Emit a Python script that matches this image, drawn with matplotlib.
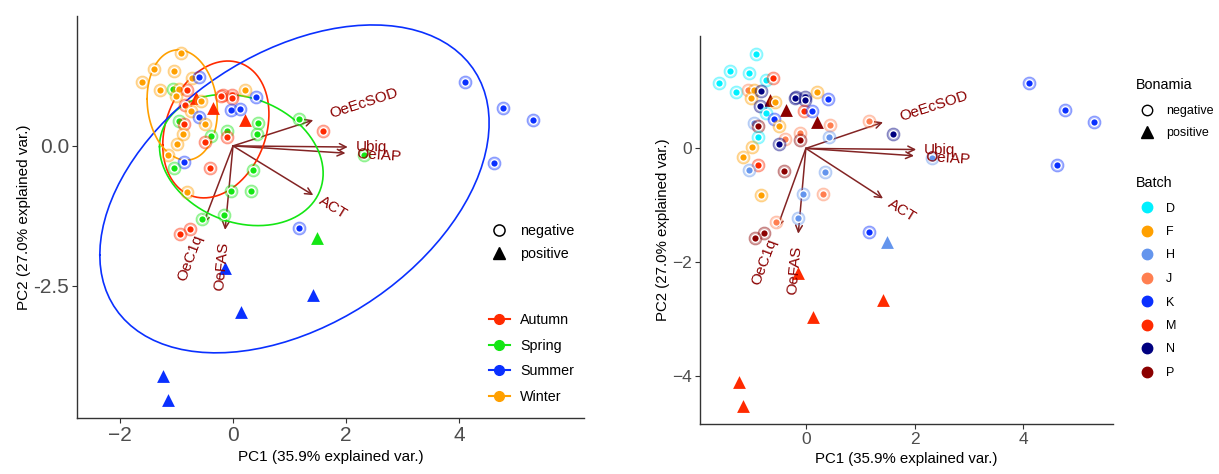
import numpy as np
import matplotlib
matplotlib.use("Agg")
import matplotlib.pyplot as plt
from matplotlib.lines import Line2D
from matplotlib.textpath import TextToPath
from matplotlib.font_manager import FontProperties
import matplotlib.transforms as mtransforms

plt.rcParams['font.family'] = ['Liberation Sans', 'DejaVu Sans']

# ---------------- data ----------------
pc1 = [-0.923, -1.391, -1.038, -1.603, -1.290, -0.730, -0.605, -1.064, -0.959, -1.002,
       -0.822, -0.656, -0.573, -0.845, -0.362, -0.735, -0.595, -0.956, -0.873, -0.494,
       -0.882, -0.390, -0.494, -0.983, -1.149, -0.873, -1.051, -0.399, -0.822, -0.178,
       -0.206, -0.013, -0.013, 0.204, 0.414, -0.040, 0.119, 0.211, 0.450, -0.101,
       -0.101, 0.428, 1.160, 1.601, 2.318, 0.358, -0.044, 0.322, -0.151, -0.555,
       -0.766, -0.941, 1.160, 1.489, -0.145, 1.424, 0.138, -1.235, -1.156, 4.100,
       4.774, 5.307, 4.615]
pc2 = [1.666, 1.369, 1.330, 1.143, 0.994, 1.210, 1.237, 1.021, 1.021, 0.883,
       1.001, 0.853, 0.807, 0.738, 0.676, 0.626, 0.517, 0.440, 0.387, 0.387,
       0.205, 0.172, 0.078, 0.028, -0.157, -0.290, -0.386, -0.391, -0.819, 0.909,
       0.883, 0.909, 0.847, 0.992, 0.877, 0.649, 0.662, 0.467, 0.410, 0.269,
       0.152, 0.205, 0.481, 0.260, -0.166, -0.423, -0.810, -0.810, -1.231, -1.302,
       -1.488, -1.582, -1.474, -1.652, -2.183, -2.661, -2.968, -4.111, -4.536, 1.143,
       0.683, 0.463, -0.297]
batch = ['D', 'D', 'D', 'D', 'D', 'D', 'M', 'J', 'F', 'F',
         'N', 'P', 'F', 'N', 'P', 'D', 'K', 'H', 'P', 'F',
         'D', 'J', 'N', 'F', 'F', 'M', 'H', 'P', 'F', 'N',
         'N', 'N', 'N', 'F', 'K', 'M', 'K', 'P', 'J', 'J',
         'P', 'H', 'J', 'N', 'H', 'H', 'H', 'J', 'H', 'J',
         'P', 'P', 'K', 'H', 'M', 'M', 'M', 'M', 'M', 'K',
         'K', 'K', 'K']
positive_idx = [11, 14, 37, 53, 54, 55, 56, 57, 58]

season_of_batch = {'D': 'Winter', 'F': 'Winter', 'H': 'Spring', 'J': 'Spring',
                   'K': 'Summer', 'M': 'Summer', 'N': 'Autumn', 'P': 'Autumn'}

var_names = ['OeEcSOD', 'Ubiq', 'OeIAP', 'ACT', 'OeC1q', 'OeFAS']
var_pc1 = [1.42, 2.03, 1.99, 1.42, -0.53, -0.14]
var_pc2 = [0.46, -0.02, -0.13, -0.88, -1.40, -1.50]

seasons = ['Autumn', 'Spring', 'Summer', 'Winter']
season_colors = ['#FF2A00', '#14E614', '#0A30FF', '#FFA000']
batches = ['D', 'F', 'H', 'J', 'K', 'M', 'N', 'P']
batch_colors = ['#00F0FF', '#FFA000', '#6495ED', '#FF7F50', '#0A30FF', '#FF2A00', '#000080', '#8B0000']

x_label = 'PC1 (35.9% explained var.)'
y_label = 'PC2 (27.0% explained var.)'
left_xticks = [-2, 0, 2, 4]
left_yticks = [0, -2.5]
left_yticklabels = ['0.0', '-2.5']
right_xticks = [0, 2, 4]
right_yticks = [0, -2, -4]

# ---------------- helpers ----------------
pc1 = np.array(pc1)
pc2 = np.array(pc2)
bonamia = ['positive' if i in positive_idx else 'negative' for i in range(len(pc1))]
season = [season_of_batch[b] for b in batch]
W, H = 1219, 474
fig = plt.figure(figsize=(W / 100, H / 100), dpi=100)


def px_axes(x0, y0, x1, y1):
    return fig.add_axes([x0 / W, 1 - y1 / H, (x1 - x0) / W, (y1 - y0) / H])


def ellipse_path(xs, ys, prob=0.68):
    theta = np.linspace(-np.pi, np.pi, 100)
    circle = np.column_stack([np.cos(theta), np.sin(theta)])
    sigma = np.cov(np.vstack([xs, ys]))
    R = np.linalg.cholesky(sigma).T
    ed = np.sqrt(-2 * np.log(1 - prob))
    pts = circle @ R * ed + np.array([np.mean(xs), np.mean(ys)])
    return pts[:, 0], pts[:, 1]


def draw_points(ax, groups, levels, colors):
    cmap = dict(zip(levels, colors))
    for i in range(len(pc1)):
        c = cmap[groups[i]]
        if bonamia[i] == 'negative':
            ax.scatter(pc1[i], pc2[i], s=85, color=c, alpha=0.35, lw=0.8,
                       edgecolors=c, zorder=3)
            ax.scatter(pc1[i], pc2[i], s=30, color=c, edgecolors='white',
                       linewidths=1.0, zorder=3)
        else:
            ax.scatter(pc1[i], pc2[i], s=85, marker='^', color=c, lw=0, zorder=3)


ttp = TextToPath()


def draw_vars(ax, fs):
    prop = FontProperties(family='Liberation Sans', size=fs)
    for name, vx, vy in zip(var_names, var_pc1, var_pc2):
        ax.annotate('', xy=(vx, vy), xytext=(0, 0),
                    arrowprops=dict(arrowstyle='->', color='#832424', lw=1.1,
                                    shrinkA=0, shrinkB=0, mutation_scale=12),
                    zorder=2)
        ang = np.degrees(np.arctan(vy / vx))
        w, h, d = ttp.get_text_width_height_descent(name, prop, ismath=False)
        off = 0.25 * w
        dx = off * np.cos(np.radians(ang))
        dy = off * np.sin(np.radians(ang))
        if vx < 0:
            dx, dy = -dx, -dy
        tr = mtransforms.offset_copy(ax.transData, fig=fig, x=dx, y=dy, units='points')
        ax.text(vx, vy, name, transform=tr, rotation=ang, rotation_mode='anchor',
                ha='left' if vx > 0 else 'right', va='center', color='#8B0000',
                fontsize=fs, zorder=4)


def style_axes(ax, tick_fs, lab_fs):
    for s in ['top', 'right']:
        ax.spines[s].set_visible(False)
    for s in ['left', 'bottom']:
        ax.spines[s].set_color('#333333')
        ax.spines[s].set_linewidth(1.0)
    ax.tick_params(colors='#333333', labelcolor='#4D4D4D', labelsize=tick_fs,
                   length=3.5, width=0.8, pad=2)
    ax.set_xlabel(x_label, fontsize=lab_fs, labelpad=4)
    ax.set_ylabel(y_label, fontsize=lab_fs, labelpad=2)


# ---------------- left panel ----------------
axL = px_axes(77, 16, 584, 418)
draw_points(axL, season, seasons, season_colors)
for s_, c_ in zip(seasons, season_colors):
    idx = [i for i in range(len(season)) if season[i] == s_]
    ex, ey = ellipse_path(pc1[idx], pc2[idx])
    axL.plot(ex, ey, color=c_, lw=1.2, zorder=2.5)
draw_vars(axL, 11)
axL.set_xlim(-2.76, 6.21)
axL.set_ylim(-4.86, 2.32)
axL.set_xticks(left_xticks)
axL.set_yticks(left_yticks)
axL.set_yticklabels(left_yticklabels)
style_axes(axL, 15, 11)

leg1 = axL.legend(handles=[Line2D([], [], ls='', marker='o', mfc='none', mec='black', ms=8, mew=1.1),
                           Line2D([], [], ls='', marker='^', color='black', ms=8)],
                  labels=['negative', 'positive'], loc='upper left',
                  bbox_to_anchor=(488.5 / W, 1 - 224 / H), bbox_transform=fig.transFigure,
                  frameon=False, fontsize=10.3, handlelength=1.5, handletextpad=0.7,
                  labelspacing=0.64, borderpad=0, borderaxespad=0)
axL.add_artist(leg1)
axL.legend(handles=[Line2D([], [], color=c, lw=1.5, marker='o', ms=7) for c in season_colors],
           labels=seasons, loc='upper left',
           bbox_to_anchor=(488.5 / W, 1 - 313 / H), bbox_transform=fig.transFigure,
           frameon=False, fontsize=10.3, handlelength=1.5, handletextpad=0.7,
           labelspacing=0.81, borderpad=0, borderaxespad=0)

# ---------------- right panel ----------------
axR = px_axes(700, 36, 1113, 424)
draw_points(axR, batch, batches, batch_colors)
draw_vars(axR, 11)
allx = list(pc1) + var_pc1
ally = list(pc2) + var_pc2
xr = max(allx) - min(allx)
yr = max(ally) - min(ally)
axR.set_xlim(min(allx) - 0.05 * xr, max(allx) + 0.05 * xr)
axR.set_ylim(min(ally) - 0.05 * yr, max(ally) + 0.05 * yr)
axR.set_xticks(right_xticks)
axR.set_yticks(right_yticks)
style_axes(axR, 12.5, 10.8)

fig.text(1136 / W, 1 - 85 / H, 'Bonamia', fontsize=10.3, va='center', ha='left')
fig.text(1136 / W, 1 - 183 / H, 'Batch', fontsize=10.3, va='center', ha='left')
leg3 = axR.legend(handles=[Line2D([], [], ls='', marker='o', mfc='none', mec='black', ms=7.5, mew=1.0),
                           Line2D([], [], ls='', marker='^', color='black', ms=8)],
                  labels=['negative', 'positive'], loc='upper left',
                  bbox_to_anchor=(1138 / W, 1 - 105 / H), bbox_transform=fig.transFigure,
                  frameon=False, fontsize=9, handlelength=1.4,
                  handletextpad=0.84, labelspacing=0.81, borderpad=0, borderaxespad=0)
axR.add_artist(leg3)
axR.legend(handles=[Line2D([], [], ls='', marker='o', color=c, ms=7.5) for c in batch_colors],
           labels=batches, loc='upper left',
           bbox_to_anchor=(1138 / W, 1 - 202.5 / H), bbox_transform=fig.transFigure,
           frameon=False, fontsize=9, handlelength=1.4,
           handletextpad=0.84, labelspacing=0.92, borderpad=0, borderaxespad=0)

fig.savefig('out.png', dpi=100)
